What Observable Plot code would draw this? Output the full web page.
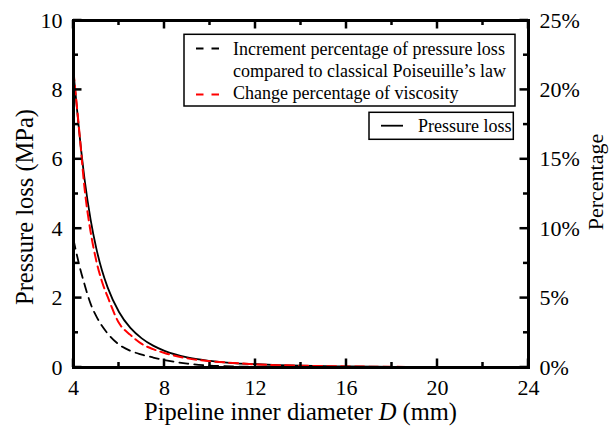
<!DOCTYPE html>
<html><head><meta charset="utf-8">
<script src="https://cdn.jsdelivr.net/npm/d3@7"></script>
<script src="https://cdn.jsdelivr.net/npm/@observablehq/plot@0.6"></script>
<style>
body{margin:0;background:#fff}
#chart{width:609px;height:430px;position:relative}
</style>
</head><body><div id="chart"></div>
<script>
// ---- data ----
const diameters    = [4, 4.25, 4.5, 4.75, 5, 5.25, 5.5, 6, 6.5, 7, 7.5, 8, 9, 10, 11, 12, 13, 14, 16, 18, 20, 22, 24];
const pressureLoss = [8.5, 6.8, 5.36, 4.27, 3.44, 2.8, 2.31, 1.6, 1.14, 0.84, 0.63, 0.48, 0.29, 0.19, 0.125, 0.095, 0.07, 0.052, 0.03, 0.018, 0.012, 0.008, 0.006];
const incrementPct = [9.2, 7.4, 5.9, 4.6, 3.7, 3.0, 2.45, 1.65, 1.2, 0.93, 0.72, 0.54, 0.28, 0.14, 0.08, 0.05, 0.03, 0.02, 0.01, 0.007, 0.005, 0.004, 0.003];
const viscosityPct = [21.3, 17.1, 12.7, 9.8, 7.7, 6.2, 5.1, 3.2, 2.35, 1.7, 1.32, 1.05, 0.66, 0.45, 0.33, 0.23, 0.17, 0.13, 0.08, 0.05, 0.035, 0.025, 0.02];

const xDomain = [4, 24];
const xMajorTicks = [4, 8, 12, 16, 20, 24];
const xMinorTicks = [6, 10, 14, 18, 22];
const leftMajorTicks = [0, 2, 4, 6, 8, 10];
const leftMinorTicks = [1, 3, 5, 7, 9];
const rightMajorTicks = [0, 5, 10, 15, 20, 25];
const rightMinorTicks = [2.5, 7.5, 12.5, 17.5, 22.5];

const xLabel = "Pipeline inner diameter ";
const xLabelVar = "D";
const xLabelUnit = " (mm)";
const leftLabel = "Pressure loss (MPa)";
const rightLabel = "Percentage";
const legendLabels = ["Increment percentage of pressure loss", "compared to classical Poiseuille\u2019s law", "Change percentage of viscosity"];
const legendLabel2 = "Pressure loss";

const pressureMax = 10, pctMax = 25;
const yDomain = [0, pressureMax];
const pctToY = p => p * pressureMax / pctMax;

const rows = diameters.map((D, i) => ({D, pressure: pressureLoss[i], inc: incrementPct[i], visc: viscosityPct[i]}));

const FONT = "'Liberation Serif', 'Times New Roman', serif";

const W = 609, H = 430, mL = 73, mR = 81, mT = 20, mB = 63;
const plotW = W - mL - mR, plotH = H - mT - mB;
const MAJOR = 8.5, MINOR = 5, TW = 2.5;

const chart = Plot.plot({
  width: W, height: H,
  marginLeft: mL, marginRight: mR, marginTop: mT, marginBottom: mB,
  x: {domain: xDomain},
  y: {domain: yDomain},
  style: {fontFamily: FONT, fontSize: "22px", color: "#000", background: "#fff"},
  marks: [
    Plot.line(rows, {x: "D", y: d => pctToY(d.inc), stroke: "#000", strokeWidth: 1.8, strokeDasharray: "9,6", curve: "monotone-x"}),
    Plot.line(rows, {x: "D", y: "pressure", stroke: "#000", strokeWidth: 1.8, curve: "monotone-x"}),
    Plot.line(rows, {x: "D", y: d => pctToY(d.visc), stroke: "#ff0000", strokeWidth: 2, strokeDasharray: "9,5", curve: "monotone-x"}),
    // tick labels
    Plot.axisX(xMajorTicks, {anchor: "bottom", tickSize: 0, tickPadding: 12, label: null, fontSize: 22}),
    Plot.axisY(leftMajorTicks, {anchor: "left", tickSize: 0, tickPadding: 11, label: null, fontSize: 22}),
    Plot.axisY(rightMajorTicks.map(pctToY), {anchor: "right", tickSize: 0, tickPadding: 11, label: null, fontSize: 22,
      tickFormat: v => `${Math.round(v * pctMax / pressureMax)}%`}),
    Plot.frame({stroke: "#000", strokeWidth: 3})
  ]
});

const svg = d3.select(chart);

// inward ticks on all four sides, positioned with the plot's own scales
const sx = chart.scale("x"), sy = chart.scale("y");
const tg = svg.append("g").attr("stroke", "black").attr("stroke-width", TW);
const edgeL = mL, edgeR = mL + plotW, edgeT = mT, edgeB = mT + plotH;
const addX = (vals, len) => vals.forEach(v => {
  const px = sx.apply(v);
  tg.append("line").attr("x1", px).attr("x2", px).attr("y1", edgeB).attr("y2", edgeB - len);
  tg.append("line").attr("x1", px).attr("x2", px).attr("y1", edgeT).attr("y2", edgeT + len);
});
const addLeft = (vals, len) => vals.forEach(v => {
  const py = sy.apply(v);
  tg.append("line").attr("x1", edgeL).attr("x2", edgeL + len).attr("y1", py).attr("y2", py);
});
const addRight = (vals, len) => vals.forEach(v => {
  const py = sy.apply(pctToY(v));
  tg.append("line").attr("x1", edgeR).attr("x2", edgeR - len).attr("y1", py).attr("y2", py);
});
addX(xMajorTicks, MAJOR); addX(xMinorTicks, MINOR);
addLeft(leftMajorTicks, MAJOR); addLeft(leftMinorTicks, MINOR);
addRight(rightMajorTicks, MAJOR); addRight(rightMinorTicks, MINOR);

// x title
const xt = svg.append("text").attr("x", 300.5).attr("y", 420).attr("text-anchor", "middle")
  .style("font-family", FONT).style("font-size", "24.5px").attr("fill", "#000");
xt.append("tspan").text(xLabel);
xt.append("tspan").attr("font-style", "italic").text(xLabelVar);
xt.append("tspan").text(xLabelUnit);
// left title
svg.append("text").attr("transform", "translate(32.5,207) rotate(-90)").attr("text-anchor", "middle")
  .style("font-family", FONT).style("font-size", "24.5px").attr("fill", "#000").text(leftLabel);
// right title
svg.append("text").attr("transform", "translate(603,182) rotate(-90)").attr("text-anchor", "middle")
  .style("font-family", FONT).style("font-size", "22px").attr("fill", "#000").text(rightLabel);

// legend 1
const lg = svg.append("g").style("font-family", FONT).style("font-size", "18px").attr("text-anchor", "start");
lg.append("rect").attr("x", 184).attr("y", 34.3).attr("width", 331).attr("height", 71.7)
  .attr("fill", "#fff").attr("stroke", "#000").attr("stroke-width", 1.5);
lg.append("line").attr("x1", 196).attr("x2", 219).attr("y1", 48.5).attr("y2", 48.5)
  .attr("stroke", "#000").attr("stroke-width", 1.8).attr("stroke-dasharray", "7.5,8");
lg.append("line").attr("x1", 196).attr("x2", 219).attr("y1", 94.5).attr("y2", 94.5)
  .attr("stroke", "#ff0000").attr("stroke-width", 2).attr("stroke-dasharray", "7.5,8");
[54.5, 77, 99.3].forEach((yy, i) => {
  lg.append("text").attr("x", 233).attr("y", yy).attr("fill", "#000").attr("text-anchor", "start").text(legendLabels[i]);
});
// legend 2
const lg2 = svg.append("g").style("font-family", FONT).style("font-size", "18px").attr("text-anchor", "start");
lg2.append("rect").attr("x", 369).attr("y", 112.3).attr("width", 144.3).attr("height", 27)
  .attr("fill", "#fff").attr("stroke", "#000").attr("stroke-width", 1.5);
lg2.append("line").attr("x1", 381).attr("x2", 403).attr("y1", 125.7).attr("y2", 125.7)
  .attr("stroke", "#000").attr("stroke-width", 1.8);
lg2.append("text").attr("x", 418).attr("y", 131.7).attr("fill", "#000").attr("text-anchor", "start").text(legendLabel2);

document.getElementById("chart").appendChild(chart);
</script>
</body></html>
